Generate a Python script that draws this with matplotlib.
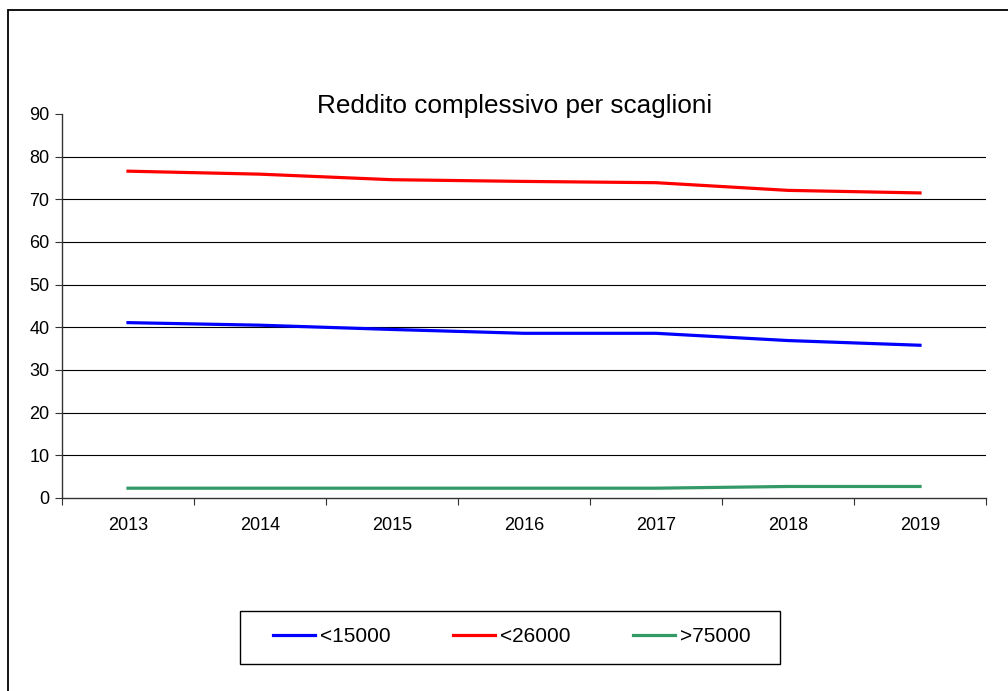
import matplotlib
matplotlib.use("Agg")
import matplotlib.pyplot as plt
from matplotlib.patches import Rectangle
import numpy as np

plt.rcParams["font.family"] = ["Liberation Sans", "DejaVu Sans"]

anni = ["2013", "2014", "2015", "2016", "2017", "2018", "2019"]
sotto_15000 = [41.1, 40.5, 39.5, 38.6, 38.6, 36.9, 35.8]
sotto_26000 = [76.6, 75.9, 74.6, 74.2, 73.9, 72.1, 71.5]
sopra_75000 = [2.3, 2.3, 2.3, 2.3, 2.3, 2.7, 2.7]
etichette = ["<15000", "<26000", ">75000"]

W, H = 1008, 691
fig = plt.figure(figsize=(W / 100, H / 100), dpi=100)

# cornice esterna del grafico (solo lati sinistro e superiore visibili)
fig.patches.append(Rectangle((8 / W, -0.05), 1.1, 1 - 10 / H + 0.05,
                             transform=fig.transFigure, fill=False,
                             edgecolor="black", linewidth=1.3))

ax = fig.add_axes([62 / W, 1 - 498 / H, (986 - 62) / W, (498 - 114) / H])
x = np.arange(len(anni))
ax.plot(x, sotto_15000, color="#0000ff", lw=2.3, label=etichette[0])
ax.plot(x, sotto_26000, color="#ff0000", lw=2.3, label=etichette[1])
ax.plot(x, sopra_75000, color="#339966", lw=2.3, label=etichette[2])

ax.set_xlim(-0.5, len(anni) - 0.5)
ax.set_ylim(0, 90)
ax.set_yticks(range(0, 91, 10))
ax.set_xticks(np.arange(-0.5, len(anni), 1.0))
ax.set_xticklabels([])
ax.set_xticks(x, minor=True)
ax.set_xticklabels(anni, minor=True)
ax.tick_params(axis="x", which="major", length=5, color="#333333", direction="out")
ax.tick_params(axis="x", which="minor", length=0, pad=14, labelsize=13)
ax.tick_params(axis="y", length=5, color="#333333", direction="out", labelsize=13, pad=4)

# griglia orizzontale, senza la linea a 90
ax.yaxis.grid(True, color="black", linewidth=0.8)
gl = ax.get_ygridlines()
gl[0].set_visible(False)
gl[-1].set_visible(False)
ax.set_axisbelow(True)

for lato in ["top", "right"]:
    ax.spines[lato].set_visible(False)
for lato in ["left", "bottom"]:
    ax.spines[lato].set_color("#333333")
    ax.spines[lato].set_linewidth(1.0)

fig.text(515 / W, 1 - 106 / H, "Reddito complessivo per scaglioni",
         ha="center", va="center", fontsize=18.8)

# riquadro della legenda
fig.patches.append(Rectangle((240 / W, 1 - 664 / H), 540 / W, 53 / H,
                             transform=fig.transFigure, fill=False,
                             edgecolor="black", linewidth=1.0))
leg = fig.legend(loc="center", bbox_to_anchor=(512 / W, 1 - 637 / H), ncol=3,
                 fontsize=15, frameon=False, handlelength=2.0,
                 handletextpad=0.25, columnspacing=3.0)

fig.savefig("out.png", dpi=100)
